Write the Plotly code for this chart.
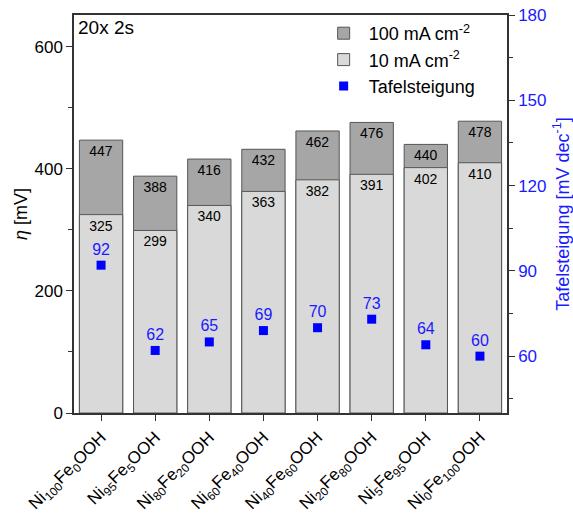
import plotly.graph_objects as go

categories = ["Ni<sub>100</sub>Fe<sub>0</sub>OOH", "Ni<sub>95</sub>Fe<sub>5</sub>OOH",
              "Ni<sub>80</sub>Fe<sub>20</sub>OOH", "Ni<sub>60</sub>Fe<sub>40</sub>OOH",
              "Ni<sub>40</sub>Fe<sub>60</sub>OOH", "Ni<sub>20</sub>Fe<sub>80</sub>OOH",
              "Ni<sub>5</sub>Fe<sub>95</sub>OOH", "Ni<sub>0</sub>Fe<sub>100</sub>OOH"]
eta_100 = [447, 388, 416, 432, 462, 476, 440, 478]
eta_10 = [325, 299, 340, 363, 382, 391, 402, 410]
tafel = [92, 62, 65, 69, 70, 73, 64, 60]

FONT = "Arial, Liberation Sans, sans-serif"
BLUE = "#1a1aff"
x = list(range(len(categories)))

fig = go.Figure()
fig.add_trace(go.Bar(
    x=x, y=eta_100, name="100 mA cm<sup>-2</sup>", width=0.8,
    marker=dict(color="#a6a6a6", line=dict(color="#555555", width=1)),
    text=[str(v) for v in eta_100], textposition="inside", insidetextanchor="end",
    textangle=0, constraintext="none",
    textfont=dict(size=14, color="black", family=FONT),
))
fig.add_trace(go.Bar(
    x=x, y=eta_10, name="10 mA cm<sup>-2</sup>", width=0.8,
    marker=dict(color="#d9d9d9", line=dict(color="#555555", width=1)),
    text=[str(v) for v in eta_10], textposition="inside", insidetextanchor="end",
    textangle=0, constraintext="none",
    textfont=dict(size=14, color="black", family=FONT),
))
fig.add_trace(go.Scatter(
    x=x, y=tafel, name="Tafelsteigung", yaxis="y2", mode="markers+text",
    marker=dict(symbol="square", size=9, color="#0000ff"),
    text=[str(v) for v in tafel], textposition="top center",
    textfont=dict(size=16, color=BLUE, family=FONT),
))

fig.add_annotation(x=0.005, y=1.0, xref="paper", yref="paper", text="20x 2s",
                   showarrow=False, xanchor="left", yanchor="top",
                   font=dict(size=19, color="black", family=FONT))

fig.update_layout(
    width=573, height=513,
    margin=dict(l=74, r=66, t=15, b=100),
    barmode="overlay",
    plot_bgcolor="white", paper_bgcolor="white",
    font=dict(family=FONT, size=17, color="black"),
    showlegend=True,
    legend=dict(x=0.565, y=1.0, xanchor="left", yanchor="top",
                bgcolor="rgba(0,0,0,0)", font=dict(size=18, family=FONT),
                tracegroupgap=0, itemwidth=40),
    xaxis=dict(
        tickmode="array", tickvals=x, ticktext=categories, tickangle=-45,
        range=[-0.5, 7.5], showline=True, linecolor="#333333", linewidth=1.5,
        mirror=True, ticks="outside", ticklen=6, tickcolor="#333333",
        tickfont=dict(size=17, family=FONT), showgrid=False, zeroline=False,
        automargin=False,
    ),
    yaxis=dict(
        range=[0, 652], tickmode="linear", tick0=0, dtick=200,
        showline=True, linecolor="#333333", linewidth=1.5,
        ticks="outside", ticklen=6, tickcolor="#333333",
        minor=dict(dtick=100, ticks="outside", ticklen=4, tickcolor="#333333", showgrid=False),
        showgrid=False, zeroline=False, tickfont=dict(size=17, family=FONT),
        title=dict(text="<i>η</i> [mV]", font=dict(size=18, family=FONT), standoff=2),
        automargin=False,
    ),
    yaxis2=dict(
        overlaying="y", side="right", range=[40, 180], tickmode="linear", tick0=0, dtick=30,
        showline=True, linecolor="#333333", linewidth=1.5,
        ticks="outside", ticklen=6, tickcolor="#333333",
        minor=dict(dtick=15, ticks="outside", ticklen=4, tickcolor="#333333", showgrid=False),
        showgrid=False, zeroline=False, tickfont=dict(size=17, color=BLUE, family=FONT),
        title=dict(text="Tafelsteigung [mV dec<sup>-1</sup>]", font=dict(size=18, color=BLUE, family=FONT), standoff=14),
        automargin=False,
    ),
)

fig.write_html("out.html")
